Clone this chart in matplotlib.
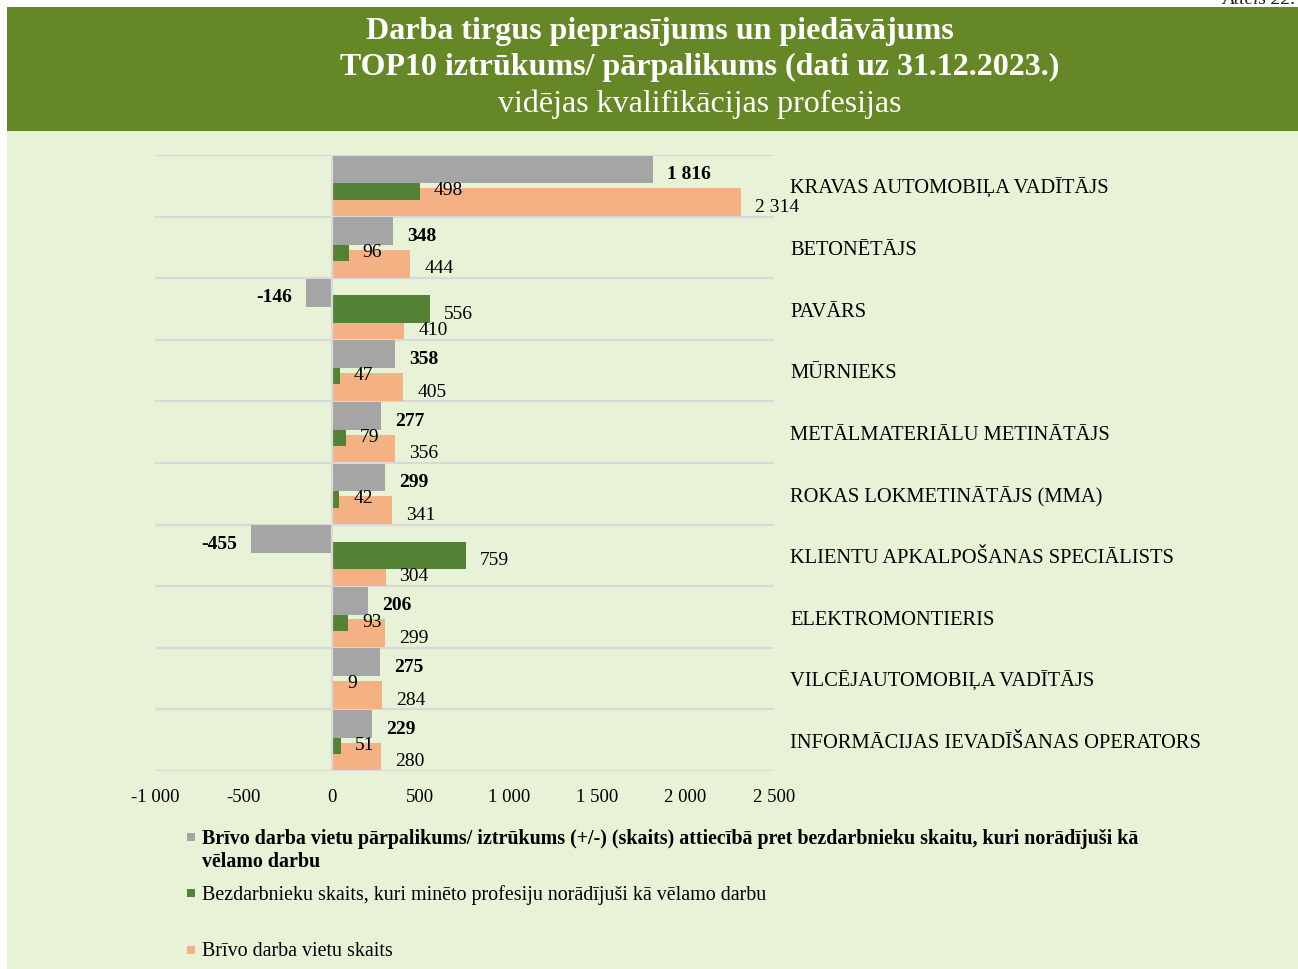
import matplotlib
matplotlib.use("Agg")
import matplotlib.pyplot as plt
from matplotlib.patches import Rectangle
import numpy as np

categories = [
    "KRAVAS AUTOMOBIĻA VADĪTĀJS",
    "BETONĒTĀJS",
    "PAVĀRS",
    "MŪRNIEKS",
    "METĀLMATERIĀLU METINĀTĀJS",
    "ROKAS LOKMETINĀTĀJS (MMA)",
    "KLIENTU APKALPOŠANAS SPECIĀLISTS",
    "ELEKTROMONTIERIS",
    "VILCĒJAUTOMOBIĻA VADĪTĀJS",
    "INFORMĀCIJAS IEVADĪŠANAS OPERATORS",
]
gap_values = [1816, 348, -146, 358, 277, 299, -455, 206, 275, 229]
unemployed = [498, 96, 556, 47, 79, 42, 759, 93, 9, 51]
vacancies = [2314, 444, 410, 405, 356, 341, 304, 299, 284, 280]
xticks = [-1000, -500, 0, 500, 1000, 1500, 2000, 2500]

legend_labels = [
    "Brīvo darba vietu pārpalikums/ iztrūkums (+/-) (skaits) attiecībā pret bezdarbnieku skaitu, kuri norādījuši kā\nvēlamo darbu",
    "Bezdarbnieku skaits, kuri minēto profesiju norādījuši kā vēlamo darbu",
    "Brīvo darba vietu skaits",
]
title_lines = [
    "Darba tirgus pieprasījums un piedāvājums",
    "TOP10 iztrūkums/ pārpalikums (dati uz 31.12.2023.)",
    "vidējas kvalifikācijas profesijas",
]

C_GRAY = "#A5A5A5"
C_GREEN = "#548235"
C_SALMON = "#F4B183"
C_HEADER = "#668726"
C_BG = "#E8F2D6"
C_GRID = "#D9D9D9"

plt.rcParams["font.family"] = ["Liberation Serif", "DejaVu Serif"]

W, H = 1298, 970
fig = plt.figure(figsize=(W / 100, H / 100), dpi=100, facecolor="white")

def fx(px):
    return px / W

def fy(py):
    return 1 - py / H

# backgrounds
fig.patches.append(Rectangle((fx(7), 0), 1 - fx(7), fy(132), transform=fig.transFigure,
                             facecolor=C_BG, edgecolor="none", zorder=-10))
fig.patches.append(Rectangle((fx(7), fy(132)), 1 - fx(7), fy(8) - fy(132), transform=fig.transFigure,
                             facecolor=C_HEADER, edgecolor="none", zorder=-10))

# title
fig.text(fx(660), fy(31), title_lines[0], ha="center", va="center", color="white",
         fontsize=23, fontweight="bold")
fig.text(fx(700), fy(67), title_lines[1], ha="center", va="center", color="white",
         fontsize=23, fontweight="bold")
fig.text(fx(700), fy(104), title_lines[2], ha="center", va="center", color="white",
         fontsize=23)
fig.text(fx(1296), fy(4), "Attēls 22.", ha="right", va="baseline", fontsize=14,
         style="italic", color="#222222")

ax = fig.add_axes([fx(155), fy(772), fx(774) - fx(155), fy(156) - fy(772)])
ax.set_facecolor("none")

n = len(categories)
y = np.arange(n)
h = 0.45
off = 0.265

ax.barh(y + off, vacancies, height=h, color=C_SALMON, zorder=2)
ax.barh(y, unemployed, height=h, color=C_GREEN, zorder=3)
ax.barh(y - off, gap_values, height=h, color=C_GRAY, zorder=4)

def fmt(v):
    s = f"{abs(v):,}".replace(",", " ")
    return ("-" if v < 0 else "") + s

lab_fs = 14
dy = -3
for i in range(n):
    g = gap_values[i]
    ax.annotate(fmt(g), (g, y[i] - off), xytext=(10 if g >= 0 else -10, dy),
                textcoords="offset points", ha="left" if g >= 0 else "right",
                va="center", fontsize=lab_fs, fontweight="bold", zorder=6)
    ax.annotate(fmt(unemployed[i]), (unemployed[i], y[i]), xytext=(10, dy),
                textcoords="offset points", ha="left", va="center",
                fontsize=lab_fs, zorder=6)
    ax.annotate(fmt(vacancies[i]), (vacancies[i], y[i] + off), xytext=(10, dy),
                textcoords="offset points", ha="left", va="center",
                fontsize=lab_fs, zorder=6)
    ax.annotate(categories[i], (1.0, y[i]), xycoords=ax.get_yaxis_transform(),
                xytext=(11.5, -1.5), textcoords="offset points",
                ha="left", va="center", fontsize=14.8)

ax.set_xlim(-1000, 2500)
ax.set_ylim(n - 0.5, -0.5)
ax.set_yticks([])
ax.set_xticks(xticks)
ax.set_xticklabels([fmt(t) for t in xticks], fontsize=13.5)
ax.tick_params(axis="x", length=0, pad=12)
for s in ax.spines.values():
    s.set_visible(False)
for b in np.arange(-0.5, n, 1.0):
    ax.axhline(b, color=C_GRID, lw=1.6, zorder=1)
ax.axvline(0, color=C_GRID, lw=1.6, zorder=5)

# legend
colors = [C_GRAY, C_GREEN, C_SALMON]
ys = [837, 893, 950]
for c, lab, yy, bold in zip(colors, legend_labels, ys, [True, False, False]):
    fig.patches.append(Rectangle((fx(187), fy(yy + 5)), fx(8), fy(yy - 3) - fy(yy + 5),
                                 transform=fig.transFigure, facecolor=c, edgecolor="none"))
    fig.text(fx(202), fy(yy - 8), lab, ha="left", va="top", fontsize=14.4,
             fontweight="bold" if bold else "normal", linespacing=1.2)

fig.savefig("out.png", dpi=100, facecolor="white")
